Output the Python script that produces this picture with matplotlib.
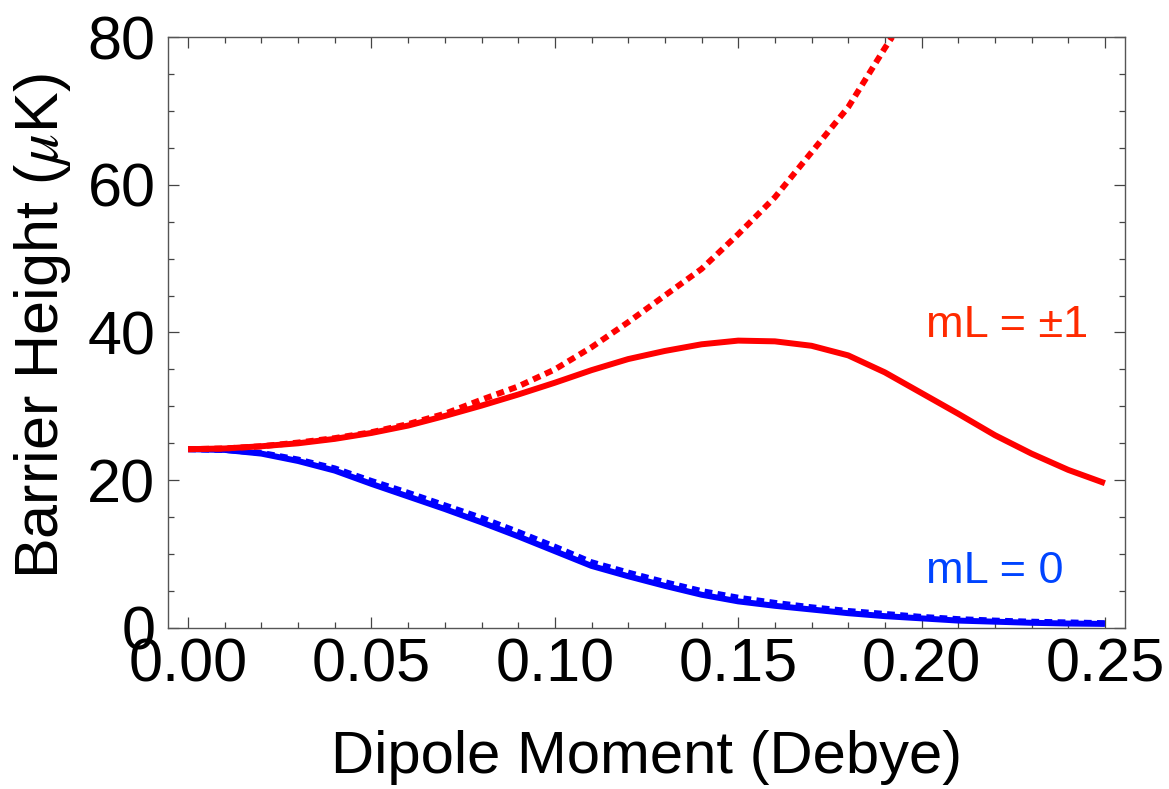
import matplotlib
matplotlib.use("Agg")
import matplotlib.pyplot as plt
from matplotlib.ticker import MultipleLocator

plt.rcParams['font.family'] = ['Liberation Sans', 'DejaVu Sans']
plt.rcParams['mathtext.fontset'] = 'stix'

# dipole moment (Debye)
dipole = [0.00, 0.01, 0.02, 0.03, 0.04, 0.05, 0.06, 0.07, 0.08, 0.09,
          0.10, 0.11, 0.12, 0.13, 0.14, 0.15, 0.16, 0.17, 0.18, 0.19,
          0.20, 0.21, 0.22, 0.23, 0.24, 0.25]

# mL = +-1, full calculation (solid) and approximation (dotted)
red_solid = [24.2, 24.3, 24.6, 25.0, 25.6, 26.4, 27.4, 28.7, 30.1, 31.6,
             33.2, 34.9, 36.4, 37.5, 38.4, 38.9, 38.8, 38.2, 36.9, 34.6,
             31.8, 29.0, 26.1, 23.6, 21.4, 19.6]
dipole_red_dot = [0.00, 0.01, 0.02, 0.03, 0.04, 0.05, 0.06, 0.07, 0.08, 0.09,
                  0.10, 0.11, 0.12, 0.13, 0.14, 0.15, 0.16, 0.17, 0.18, 0.19, 0.192]
red_dotted = [24.2, 24.3, 24.6, 25.1, 25.7, 26.5, 27.6, 29.0, 30.9, 32.7,
              35.0, 38.0, 41.4, 45.0, 48.6, 53.3, 58.3, 64.4, 70.5, 78.5, 80.0]

# mL = 0
blue_solid = [24.2, 24.1, 23.6, 22.6, 21.3, 19.5, 17.8, 16.1, 14.3, 12.4,
              10.4, 8.4, 7.0, 5.7, 4.5, 3.6, 3.0, 2.5, 2.0, 1.6,
              1.3, 1.0, 0.85, 0.7, 0.6, 0.55]
blue_dotted = [24.2, 24.1, 23.7, 22.8, 21.6, 19.9, 18.3, 16.6, 14.9, 13.0,
               11.0, 8.9, 7.5, 6.2, 5.0, 4.1, 3.4, 2.8, 2.3, 1.9,
               1.5, 1.2, 1.0, 0.85, 0.75, 0.65]

fig = plt.figure(figsize=(11.69, 7.89), dpi=100)
ax = fig.add_axes([0.1437, 0.2041, 0.8187, 0.7490])

lw = 4.3
dots = (0, (1.3, 0.9))
ax.plot(dipole, blue_solid, color='#0000ff', lw=lw, solid_capstyle='butt', solid_joinstyle='round')
ax.plot(dipole, blue_dotted, color='#0000ff', lw=lw, ls=dots, dash_capstyle='butt')
ax.plot(dipole, red_solid, color='#ff0000', lw=lw, solid_capstyle='butt', solid_joinstyle='round')
ax.plot(dipole_red_dot, red_dotted, color='#ff0000', lw=lw, ls=dots, dash_capstyle='butt')

ax.text(0.2012, 39.4, 'mL = \u00b11', color='#ff2a00', fontsize=32.5, ha='left', va='baseline')
ax.text(0.2012, 6.1, 'mL = 0', color='#0044ff', fontsize=32.5, ha='left', va='baseline')

ax.set_xlim(-0.0055, 0.2555)
ax.set_ylim(0, 80)
ax.xaxis.set_major_locator(MultipleLocator(0.05))
ax.xaxis.set_minor_locator(MultipleLocator(0.01))
ax.yaxis.set_major_locator(MultipleLocator(20))
ax.yaxis.set_minor_locator(MultipleLocator(5))
ax.xaxis.set_major_formatter(matplotlib.ticker.FormatStrFormatter('%.2f'))

ax.tick_params(which='both', direction='in', top=True, right=True,
               color='#444444', width=0.9)
ax.tick_params(which='major', length=8, labelsize=44, pad=7)
ax.tick_params(which='minor', length=4.3)
ax.tick_params(axis='y', which='major', pad=9)
for s in ax.spines.values():
    s.set_color('#555555')
    s.set_linewidth(1.0)

ax.set_xlabel('Dipole Moment (Debye)', fontsize=43)
ax.set_ylabel(r'Barrier Height ($\mu$K)', fontsize=44)
ax.xaxis.set_label_coords(0.5, -0.172)
ax.yaxis.set_label_coords(-0.099, 0.51)

fig.savefig('out.png', dpi=100)
